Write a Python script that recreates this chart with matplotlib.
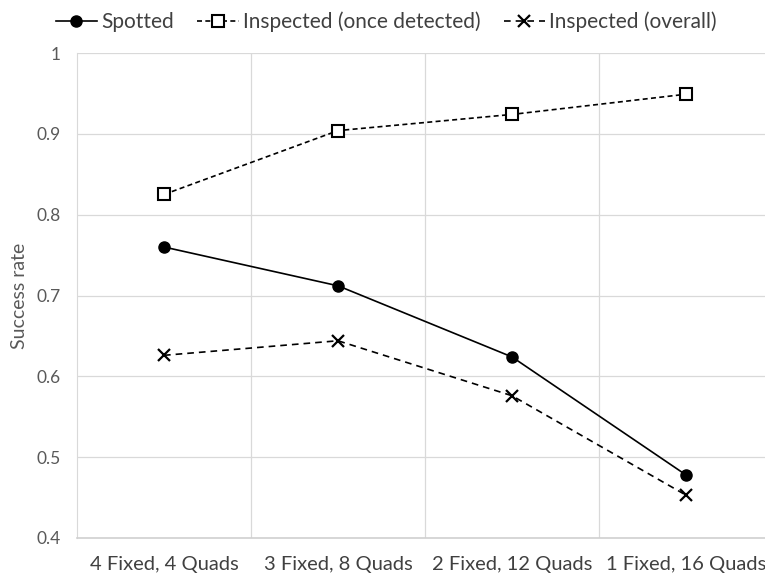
import matplotlib.pyplot as plt

# success rates per configuration
categories = ['4 Fixed, 4 Quads', '3 Fixed, 8 Quads', '2 Fixed, 12 Quads', '1 Fixed, 16 Quads']
spotted = [0.760, 0.712, 0.624, 0.478]
inspected_detected = [0.825, 0.904, 0.924, 0.949]
inspected_overall = [0.626, 0.644, 0.576, 0.453]
y_ticks = [0.4, 0.5, 0.6, 0.7, 0.8, 0.9, 1.0]
y_tick_labels = ['0.4', '0.5', '0.6', '0.7', '0.8', '0.9', '1']

plt.rcParams['font.family'] = ['Lato', 'DejaVu Sans']

fig = plt.figure(figsize=(7.65, 5.78), dpi=100)
ax = fig.add_axes([77 / 765, 40 / 578, 688 / 765, 485 / 578])

x = range(len(categories))
ax.plot(x, spotted, color='black', lw=1.2, marker='o', ms=8,
        label='Spotted', zorder=3)
ax.plot(x, inspected_detected, color='black', lw=1.2, ls=(0, (3, 2)),
        marker='s', ms=8, mfc='white', mec='black', mew=1.5,
        label='Inspected (once detected)', zorder=3)
ax.plot(x, inspected_overall, color='black', lw=1.2, ls=(0, (4, 3)),
        marker='x', ms=8, mew=1.6,
        label='Inspected (overall)', zorder=3)

ax.set_xlim(-0.5, 3.454)
ax.set_ylim(0.4, 1.0)
ax.set_yticks(y_ticks)
ax.set_yticklabels(y_tick_labels)
ax.set_xticks(list(x))
ax.set_xticklabels(categories)

# vertical lines between categories, horizontal at each tick
for b in [0.5, 1.5, 2.5]:
    ax.axvline(b, color='#d9d9d9', lw=0.9, zorder=1)
ax.grid(axis='y', color='#d9d9d9', lw=0.9, zorder=1)
ax.set_axisbelow(True)

for s in ['top', 'right']:
    ax.spines[s].set_visible(False)
ax.spines['left'].set_color('#d9d9d9')
ax.spines['bottom'].set_color('#d0d0d0')
ax.spines['bottom'].set_linewidth(1.2)
ax.tick_params(length=0)
ax.tick_params(axis='y', labelsize=12.5, labelcolor='#595959', pad=12)
ax.tick_params(axis='x', labelsize=14.5, labelcolor='#404040', pad=13)

ax.set_ylabel('Success rate', fontsize=14, color='#595959', labelpad=6)

fig.legend(loc='upper center', bbox_to_anchor=(0.505, 1.012), ncol=3,
           frameon=False, fontsize=15, handlelength=2.0,
           columnspacing=1.1, handletextpad=0.2, labelcolor='#404040')

plt.savefig('out.png', dpi=100)
plt.close()
